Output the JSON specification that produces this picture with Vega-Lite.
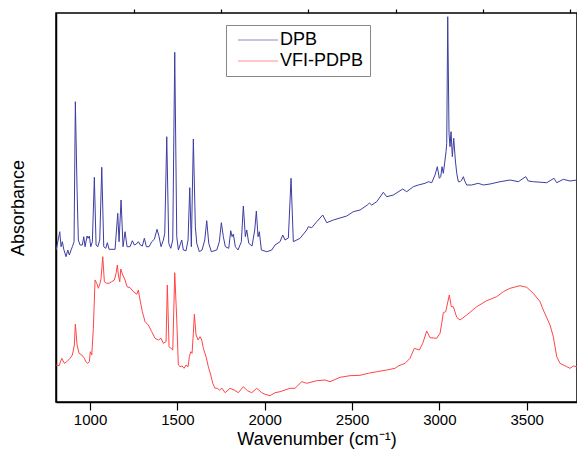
{
  "$schema": "https://vega.github.io/schema/vega-lite/v6.json",
  "autosize": "none",
  "width": 521,
  "height": 389,
  "padding": {"left": 56, "top": 13, "right": 0, "bottom": 59},
  "background": "white",
  "config": {
    "font": "Liberation Sans",
    "view": {"stroke": "#000", "strokeWidth": 1.5},
    "axis": {"grid": false, "domainColor": "#000", "domainWidth": 1.5, "tickColor": "#000", "tickWidth": 1.2, "labelColor": "#000", "titleColor": "#000", "labelFont": "Liberation Sans", "titleFont": "Liberation Sans", "titleFontWeight": "normal"}
  },
  "datasets": {
    "spec": [
      {"s":"DPB","w":806,"a":152},{"s":"DPB","w":826.5,"a":170.3},{"s":"DPB","w":834,"a":155.3},{"s":"DPB","w":841.4,"a":160.3},{"s":"DPB","w":849.4,"a":152.7},{"s":"DPB","w":862.6,"a":145.3},{"s":"DPB","w":872.3,"a":152},{"s":"DPB","w":881.5,"a":147},{"s":"DPB","w":891.2,"a":152},{"s":"DPB","w":898.7,"a":155.3},{"s":"DPB","w":908.4,"a":160.3},{"s":"DPB","w":915.8,"a":300.3},{"s":"DPB","w":925.6,"a":212},{"s":"DPB","w":933,"a":162},{"s":"DPB","w":942.7,"a":157},{"s":"DPB","w":955.9,"a":157},{"s":"DPB","w":963.9,"a":165.3},{"s":"DPB","w":971.4,"a":155.3},{"s":"DPB","w":982.8,"a":166},{"s":"DPB","w":988.5,"a":163.7},{"s":"DPB","w":996,"a":166},{"s":"DPB","w":1004,"a":155.3},{"s":"DPB","w":1013.2,"a":160.3},{"s":"DPB","w":1024.6,"a":224.7},{"s":"DPB","w":1034.4,"a":157},{"s":"DPB","w":1044.1,"a":155.3},{"s":"DPB","w":1055.5,"a":162},{"s":"DPB","w":1067,"a":234.7},{"s":"DPB","w":1078.4,"a":155.3},{"s":"DPB","w":1089.9,"a":153.7},{"s":"DPB","w":1099,"a":159.3},{"s":"DPB","w":1108.8,"a":152.7},{"s":"DPB","w":1143.1,"a":152.7},{"s":"DPB","w":1158.6,"a":188.7},{"s":"DPB","w":1166,"a":160.3},{"s":"DPB","w":1177.5,"a":202},{"s":"DPB","w":1188.9,"a":155.3},{"s":"DPB","w":1200.4,"a":170.3},{"s":"DPB","w":1211.8,"a":155.3},{"s":"DPB","w":1229,"a":155.3},{"s":"DPB","w":1242.2,"a":161.3},{"s":"DPB","w":1253.6,"a":157},{"s":"DPB","w":1265.1,"a":158},{"s":"DPB","w":1276.5,"a":160.3},{"s":"DPB","w":1288,"a":157},{"s":"DPB","w":1299.4,"a":156},{"s":"DPB","w":1310.9,"a":163.7},{"s":"DPB","w":1322.3,"a":155.3},{"s":"DPB","w":1337.8,"a":155.3},{"s":"DPB","w":1353.2,"a":160.3},{"s":"DPB","w":1368.1,"a":162.7},{"s":"DPB","w":1383.6,"a":172.7},{"s":"DPB","w":1395,"a":165.3},{"s":"DPB","w":1406.5,"a":155.3},{"s":"DPB","w":1419.6,"a":162},{"s":"DPB","w":1427.7,"a":168.7},{"s":"DPB","w":1439.1,"a":265.3},{"s":"DPB","w":1450.6,"a":158.7},{"s":"DPB","w":1462,"a":153.7},{"s":"DPB","w":1473.5,"a":162},{"s":"DPB","w":1484.9,"a":349.7},{"s":"DPB","w":1496.4,"a":165.3},{"s":"DPB","w":1505.5,"a":152},{"s":"DPB","w":1515.3,"a":157},{"s":"DPB","w":1525,"a":162},{"s":"DPB","w":1534.1,"a":152},{"s":"DPB","w":1549.6,"a":151.3},{"s":"DPB","w":1561.1,"a":162},{"s":"DPB","w":1570.8,"a":214.3},{"s":"DPB","w":1579.9,"a":155.3},{"s":"DPB","w":1591.4,"a":263},{"s":"DPB","w":1602.8,"a":175.3},{"s":"DPB","w":1610.9,"a":158.7},{"s":"DPB","w":1625.7,"a":150.3},{"s":"DPB","w":1641.2,"a":152},{"s":"DPB","w":1656.7,"a":162},{"s":"DPB","w":1668.1,"a":181.3},{"s":"DPB","w":1679.6,"a":158.7},{"s":"DPB","w":1694.4,"a":150.3},{"s":"DPB","w":1725.4,"a":152},{"s":"DPB","w":1740.2,"a":160.3},{"s":"DPB","w":1751.7,"a":179.3},{"s":"DPB","w":1763.1,"a":165.3},{"s":"DPB","w":1774.6,"a":155.3},{"s":"DPB","w":1794.1,"a":153.7},{"s":"DPB","w":1805.5,"a":171.3},{"s":"DPB","w":1813,"a":165.3},{"s":"DPB","w":1820.4,"a":168},{"s":"DPB","w":1831.8,"a":155.3},{"s":"DPB","w":1847.3,"a":152},{"s":"DPB","w":1866.2,"a":160.3},{"s":"DPB","w":1877.6,"a":196},{"s":"DPB","w":1889.1,"a":165.3},{"s":"DPB","w":1897.1,"a":172},{"s":"DPB","w":1908.6,"a":158.7},{"s":"DPB","w":1927.5,"a":156},{"s":"DPB","w":1942.9,"a":172},{"s":"DPB","w":1952.1,"a":191},{"s":"DPB","w":1961.8,"a":165.3},{"s":"DPB","w":1969.2,"a":170.3},{"s":"DPB","w":1980.7,"a":152},{"s":"DPB","w":2011.6,"a":150.3},{"s":"DPB","w":2040.2,"a":152},{"s":"DPB","w":2059.1,"a":157},{"s":"DPB","w":2087.8,"a":160.3},{"s":"DPB","w":2103.2,"a":167},{"s":"DPB","w":2116.4,"a":162},{"s":"DPB","w":2135.3,"a":164},{"s":"DPB","w":2150.7,"a":223.7},{"s":"DPB","w":2163.9,"a":160.3},{"s":"DPB","w":2202.3,"a":163.7},{"s":"DPB","w":2240.6,"a":172},{"s":"DPB","w":2249.8,"a":175.3},{"s":"DPB","w":2269.2,"a":174.3},{"s":"DPB","w":2297.9,"a":180.3},{"s":"DPB","w":2332.2,"a":187},{"s":"DPB","w":2355.1,"a":179.3},{"s":"DPB","w":2392.9,"a":182},{"s":"DPB","w":2469.6,"a":186},{"s":"DPB","w":2507.4,"a":190.3},{"s":"DPB","w":2545.8,"a":192},{"s":"DPB","w":2587.5,"a":197},{"s":"DPB","w":2599,"a":199},{"s":"DPB","w":2612.7,"a":197},{"s":"DPB","w":2641.4,"a":200.3},{"s":"DPB","w":2679.2,"a":209.7},{"s":"DPB","w":2698.6,"a":205.3},{"s":"DPB","w":2736.4,"a":207},{"s":"DPB","w":2790.2,"a":213},{"s":"DPB","w":2813.1,"a":210.3},{"s":"DPB","w":2850.9,"a":215.3},{"s":"DPB","w":2879.5,"a":217},{"s":"DPB","w":2917.9,"a":218.7},{"s":"DPB","w":2936.8,"a":220.3},{"s":"DPB","w":2956.2,"a":219.3},{"s":"DPB","w":2975.1,"a":227},{"s":"DPB","w":2988.3,"a":235.3},{"s":"DPB","w":2999.7,"a":223.7},{"s":"DPB","w":3007.8,"a":225.3},{"s":"DPB","w":3015.2,"a":235.3},{"s":"DPB","w":3022.6,"a":228.7},{"s":"DPB","w":3032.4,"a":242},{"s":"DPB","w":3038.1,"a":250.3},{"s":"DPB","w":3042.1,"a":258.7},{"s":"DPB","w":3047.8,"a":385.3},{"s":"DPB","w":3055.3,"a":268.7},{"s":"DPB","w":3061,"a":255.3},{"s":"DPB","w":3066.7,"a":270.3},{"s":"DPB","w":3074.2,"a":245.3},{"s":"DPB","w":3082.2,"a":263.7},{"s":"DPB","w":3091.3,"a":242},{"s":"DPB","w":3099.4,"a":228.7},{"s":"DPB","w":3108.5,"a":220.3},{"s":"DPB","w":3118.3,"a":220.3},{"s":"DPB","w":3128,"a":222},{"s":"DPB","w":3137.2,"a":225.3},{"s":"DPB","w":3146.9,"a":220.3},{"s":"DPB","w":3156.6,"a":217},{"s":"DPB","w":3185.2,"a":217},{"s":"DPB","w":3223,"a":218.7},{"s":"DPB","w":3251.6,"a":217},{"s":"DPB","w":3290,"a":218},{"s":"DPB","w":3347.3,"a":220.3},{"s":"DPB","w":3404.5,"a":222},{"s":"DPB","w":3452,"a":220.3},{"s":"DPB","w":3494.4,"a":225.3},{"s":"DPB","w":3509.3,"a":221},{"s":"DPB","w":3537.9,"a":220.3},{"s":"DPB","w":3614.6,"a":219.3},{"s":"DPB","w":3656.4,"a":223.7},{"s":"DPB","w":3671.9,"a":219.3},{"s":"DPB","w":3709.6,"a":222.7},{"s":"DPB","w":3748,"a":221},{"s":"DPB","w":3788,"a":222},
      {"s":"VFI-PDPB","w":806,"a":37},{"s":"VFI-PDPB","w":822.5,"a":36.3},{"s":"VFI-PDPB","w":838,"a":43.7},{"s":"VFI-PDPB","w":852.9,"a":38.7},{"s":"VFI-PDPB","w":866.6,"a":40.3},{"s":"VFI-PDPB","w":885.5,"a":43.7},{"s":"VFI-PDPB","w":898.7,"a":47},{"s":"VFI-PDPB","w":910.1,"a":57},{"s":"VFI-PDPB","w":915.8,"a":78},{"s":"VFI-PDPB","w":925.6,"a":57},{"s":"VFI-PDPB","w":937,"a":48.7},{"s":"VFI-PDPB","w":952.5,"a":47},{"s":"VFI-PDPB","w":967.4,"a":43.7},{"s":"VFI-PDPB","w":975.4,"a":40.3},{"s":"VFI-PDPB","w":986.8,"a":38.7},{"s":"VFI-PDPB","w":996,"a":40.3},{"s":"VFI-PDPB","w":1001.7,"a":50.3},{"s":"VFI-PDPB","w":1009.7,"a":47},{"s":"VFI-PDPB","w":1018.9,"a":73.7},{"s":"VFI-PDPB","w":1028.6,"a":122},{"s":"VFI-PDPB","w":1038.4,"a":118.7},{"s":"VFI-PDPB","w":1047.5,"a":113.7},{"s":"VFI-PDPB","w":1057.3,"a":118.7},{"s":"VFI-PDPB","w":1063,"a":123.7},{"s":"VFI-PDPB","w":1072.7,"a":145.3},{"s":"VFI-PDPB","w":1081.9,"a":120.3},{"s":"VFI-PDPB","w":1095.6,"a":118.7},{"s":"VFI-PDPB","w":1108.8,"a":118.7},{"s":"VFI-PDPB","w":1124.2,"a":120.3},{"s":"VFI-PDPB","w":1139.1,"a":122},{"s":"VFI-PDPB","w":1148.9,"a":128.7},{"s":"VFI-PDPB","w":1156.3,"a":137},{"s":"VFI-PDPB","w":1162,"a":127},{"s":"VFI-PDPB","w":1170,"a":120.3},{"s":"VFI-PDPB","w":1175.8,"a":133},{"s":"VFI-PDPB","w":1187.2,"a":127},{"s":"VFI-PDPB","w":1200.4,"a":122},{"s":"VFI-PDPB","w":1211.8,"a":115.3},{"s":"VFI-PDPB","w":1229,"a":114.3},{"s":"VFI-PDPB","w":1247.9,"a":110.3},{"s":"VFI-PDPB","w":1267.4,"a":107.7},{"s":"VFI-PDPB","w":1276.5,"a":112},{"s":"VFI-PDPB","w":1286.3,"a":102},{"s":"VFI-PDPB","w":1299.4,"a":90.3},{"s":"VFI-PDPB","w":1314.9,"a":80.3},{"s":"VFI-PDPB","w":1333.8,"a":77},{"s":"VFI-PDPB","w":1353.2,"a":70.3},{"s":"VFI-PDPB","w":1372.1,"a":63.7},{"s":"VFI-PDPB","w":1391,"a":62},{"s":"VFI-PDPB","w":1406.5,"a":63.7},{"s":"VFI-PDPB","w":1419.6,"a":58.7},{"s":"VFI-PDPB","w":1435.1,"a":60.3},{"s":"VFI-PDPB","w":1442.5,"a":117},{"s":"VFI-PDPB","w":1452.3,"a":55.3},{"s":"VFI-PDPB","w":1463.7,"a":53.7},{"s":"VFI-PDPB","w":1473.5,"a":52},{"s":"VFI-PDPB","w":1484.9,"a":129.3},{"s":"VFI-PDPB","w":1496.4,"a":82},{"s":"VFI-PDPB","w":1505.5,"a":37},{"s":"VFI-PDPB","w":1515.3,"a":35.3},{"s":"VFI-PDPB","w":1526.7,"a":36},{"s":"VFI-PDPB","w":1538.2,"a":33.7},{"s":"VFI-PDPB","w":1549.6,"a":37},{"s":"VFI-PDPB","w":1561.1,"a":35.3},{"s":"VFI-PDPB","w":1568.5,"a":45.3},{"s":"VFI-PDPB","w":1576.5,"a":50.3},{"s":"VFI-PDPB","w":1584,"a":48.7},{"s":"VFI-PDPB","w":1591.4,"a":68.7},{"s":"VFI-PDPB","w":1597.1,"a":87.7},{"s":"VFI-PDPB","w":1606.9,"a":67},{"s":"VFI-PDPB","w":1618.3,"a":62},{"s":"VFI-PDPB","w":1629.8,"a":65.3},{"s":"VFI-PDPB","w":1639.5,"a":62},{"s":"VFI-PDPB","w":1648.6,"a":53.7},{"s":"VFI-PDPB","w":1664.1,"a":45.3},{"s":"VFI-PDPB","w":1677.3,"a":35.3},{"s":"VFI-PDPB","w":1691,"a":27},{"s":"VFI-PDPB","w":1702.5,"a":18.7},{"s":"VFI-PDPB","w":1715.6,"a":13.7},{"s":"VFI-PDPB","w":1728.8,"a":13.7},{"s":"VFI-PDPB","w":1740.2,"a":12},{"s":"VFI-PDPB","w":1755.7,"a":13.7},{"s":"VFI-PDPB","w":1772.9,"a":9.3},{"s":"VFI-PDPB","w":1801.5,"a":13.7},{"s":"VFI-PDPB","w":1824.4,"a":12},{"s":"VFI-PDPB","w":1849,"a":9.3},{"s":"VFI-PDPB","w":1877.6,"a":15.3},{"s":"VFI-PDPB","w":1900.5,"a":11.3},{"s":"VFI-PDPB","w":1925.7,"a":9.3},{"s":"VFI-PDPB","w":1954.3,"a":13.7},{"s":"VFI-PDPB","w":1983,"a":9.3},{"s":"VFI-PDPB","w":2001.9,"a":7.7},{"s":"VFI-PDPB","w":2030.5,"a":6.3},{"s":"VFI-PDPB","w":2059.1,"a":9.3},{"s":"VFI-PDPB","w":2087.8,"a":10.3},{"s":"VFI-PDPB","w":2145,"a":13.7},{"s":"VFI-PDPB","w":2173.6,"a":13.7},{"s":"VFI-PDPB","w":2212,"a":20.3},{"s":"VFI-PDPB","w":2240.6,"a":18.7},{"s":"VFI-PDPB","w":2297.9,"a":21.3},{"s":"VFI-PDPB","w":2345.4,"a":22},{"s":"VFI-PDPB","w":2374,"a":20.3},{"s":"VFI-PDPB","w":2431.3,"a":24.7},{"s":"VFI-PDPB","w":2488.5,"a":26.3},{"s":"VFI-PDPB","w":2545.8,"a":26.7},{"s":"VFI-PDPB","w":2593.3,"a":28.7},{"s":"VFI-PDPB","w":2641.4,"a":30.3},{"s":"VFI-PDPB","w":2698.6,"a":32},{"s":"VFI-PDPB","w":2746.1,"a":33.7},{"s":"VFI-PDPB","w":2765,"a":36},{"s":"VFI-PDPB","w":2803.4,"a":38.7},{"s":"VFI-PDPB","w":2832,"a":43.7},{"s":"VFI-PDPB","w":2856.6,"a":53.7},{"s":"VFI-PDPB","w":2885.2,"a":52},{"s":"VFI-PDPB","w":2904.7,"a":58.7},{"s":"VFI-PDPB","w":2927.6,"a":71},{"s":"VFI-PDPB","w":2946.5,"a":64.3},{"s":"VFI-PDPB","w":2984.9,"a":63.7},{"s":"VFI-PDPB","w":3003.8,"a":68.7},{"s":"VFI-PDPB","w":3013.5,"a":78.7},{"s":"VFI-PDPB","w":3022.6,"a":89.3},{"s":"VFI-PDPB","w":3036.4,"a":90.3},{"s":"VFI-PDPB","w":3057,"a":107},{"s":"VFI-PDPB","w":3068.4,"a":95.3},{"s":"VFI-PDPB","w":3079.9,"a":95.3},{"s":"VFI-PDPB","w":3099.4,"a":84.7},{"s":"VFI-PDPB","w":3118.3,"a":82},{"s":"VFI-PDPB","w":3156.6,"a":87},{"s":"VFI-PDPB","w":3213.9,"a":95.3},{"s":"VFI-PDPB","w":3271.1,"a":101.3},{"s":"VFI-PDPB","w":3328.4,"a":105.3},{"s":"VFI-PDPB","w":3366.1,"a":110.3},{"s":"VFI-PDPB","w":3404.5,"a":113.7},{"s":"VFI-PDPB","w":3461.8,"a":116.3},{"s":"VFI-PDPB","w":3500.1,"a":114.7},{"s":"VFI-PDPB","w":3537.9,"a":108.7},{"s":"VFI-PDPB","w":3576.3,"a":100.3},{"s":"VFI-PDPB","w":3595.1,"a":92},{"s":"VFI-PDPB","w":3633.5,"a":77},{"s":"VFI-PDPB","w":3652.4,"a":65.3},{"s":"VFI-PDPB","w":3671.9,"a":45.3},{"s":"VFI-PDPB","w":3690.8,"a":38.7},{"s":"VFI-PDPB","w":3729.1,"a":35.3},{"s":"VFI-PDPB","w":3748,"a":33.7},{"s":"VFI-PDPB","w":3766.9,"a":36},{"s":"VFI-PDPB","w":3788,"a":35.3}
    ]
  },
  "data": {"name": "spec"},
  "resolve": {"axis": {"x": "independent"}},
  "layer": [
    {
      "mark": {"type": "line", "strokeWidth": 1, "clip": true},
      "encoding": {
        "x": {"field": "w", "type": "quantitative", "scale": {"domain": [805, 3788], "nice": false, "zero": false},
          "axis": {"values": [1000, 1500, 2000, 2500, 3000, 3500], "format": "d", "tickSize": 8, "labelPadding": 2, "labelFontSize": 15, "labelFlush": false, "title": "Wavenumber (cm⁻¹)", "titleFontSize": 18, "titlePadding": 3}},
        "y": {"field": "a", "type": "quantitative", "scale": {"domain": [0, 389], "nice": false, "zero": false},
          "axis": {"labels": false, "ticks": false, "title": "Absorbance", "titleFontSize": 18, "titlePadding": 29}},
        "color": {"field": "s", "type": "nominal",
          "scale": {"domain": ["DPB", "VFI-PDPB"], "range": ["#3d3da3", "#ff4545"]},
          "legend": {"title": null, "orient": "none", "legendX": 170, "legendY": 12, "symbolType": "M-20,0H20", "symbolSize": 4, "symbolOffset": 17, "symbolStrokeWidth": 1, "symbolFillColor": "transparent", "symbolOpacity": 0.6, "labelFontSize": 18, "labelOffset": 13, "labelColor": "#000", "rowPadding": 3, "padding": 6, "strokeColor": "#888", "fillColor": "white"}}
      }
    },
    {
      "mark": {"type": "line", "opacity": 0},
      "encoding": {
        "x": {"field": "w", "type": "quantitative", "scale": {"domain": [805, 3788], "nice": false, "zero": false},
          "axis": {"values": [1250, 1750, 2250, 2750, 3250, 3750], "tickSize": 4, "labels": false, "domain": false, "title": null}},
        "y": {"field": "a", "type": "quantitative"},
        "detail": {"field": "s"}
      }
    }
  ]
}
